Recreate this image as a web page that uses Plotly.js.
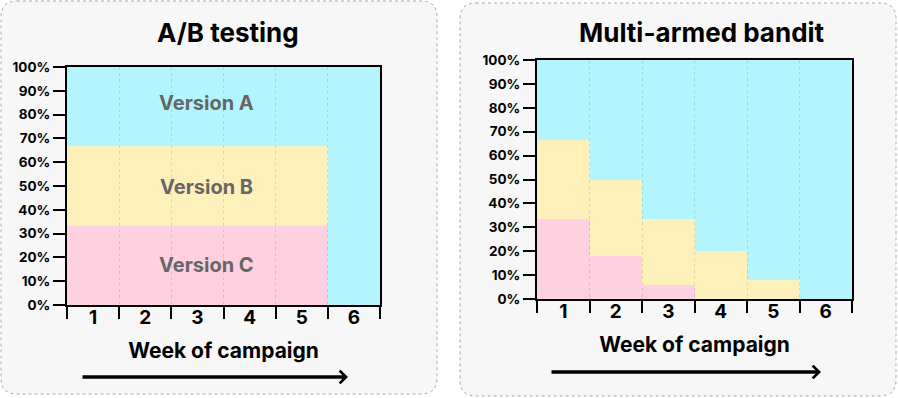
<!DOCTYPE html>
<html>
<head>
<meta charset="utf-8">
<script src="https://cdn.plot.ly/plotly-3.0.1.min.js"></script>
<style>
html,body{margin:0;padding:0;background:#fff;}
#chart{width:898px;height:398px;}
</style>
</head>
<body>
<div id="chart"></div>
<script>
// ---- data ----
const weeks = ['1', '2', '3', '4', '5', '6'];
const abVersionA = [33.3, 33.3, 33.3, 33.3, 33.3, 100];
const abVersionB = [33.3, 33.3, 33.3, 33.3, 33.3, 0];
const abVersionC = [33.4, 33.4, 33.4, 33.4, 33.4, 0];
const mabVersionA = [33.3, 50, 66.7, 80, 92, 100];
const mabVersionB = [33.3, 32, 27.3, 20, 8, 0];
const mabVersionC = [33.4, 18, 6, 0, 0, 0];
const yTickVals = [0, 10, 20, 30, 40, 50, 60, 70, 80, 90, 100];
const yTickText = ['0%', '10%', '20%', '30%', '40%', '50%', '60%', '70%', '80%', '90%', '100%'];
const panelTitles = ['A/B testing', 'Multi-armed bandit'];
const xTitle = 'Week of campaign';
const versionLabels = ['Version A', 'Version B', 'Version C'];

// ---- style ----
const W = 898, H = 398;
const FONT = 'Inter, Lato, sans-serif';
const OP = 0.8;
const colA = '#a3f3fd', colB = '#ffeeaa', colC = '#ffc6da';

function bar(x, y, color, xa, ya) {
  return {type: 'bar', x: x, y: y, xaxis: xa, yaxis: ya,
    marker: {color: color, opacity: OP, line: {width: 0}},
    hoverinfo: 'skip'};
}

const data = [
  bar(weeks, abVersionC, colC, 'x', 'y'),
  bar(weeks, abVersionB, colB, 'x', 'y'),
  bar(weeks, abVersionA, colA, 'x', 'y'),
  bar(weeks, mabVersionC, colC, 'x2', 'y2'),
  bar(weeks, mabVersionB, colB, 'x2', 'y2'),
  bar(weeks, mabVersionA, colA, 'x2', 'y2')
];

function px(x) { return x / W; }
function py(y) { return 1 - y / H; }

function xAxis(d0, d1, anchor) {
  return {
    domain: [px(d0), px(d1)], anchor: anchor, type: 'category',
    tickson: 'boundaries', ticks: 'outside', ticklen: 12, tickwidth: 2, tickcolor: '#000',
    showline: true, mirror: true, linecolor: '#000', linewidth: 2,
    showgrid: true, gridcolor: '#777', griddash: 'dot', gridwidth: 1,
    zeroline: false, fixedrange: true,
    tickfont: {family: FONT, size: 19, weight: 700, color: '#000'},
    ticklabelstandoff: -6,
    title: {text: xTitle, font: {family: FONT, size: 21, weight: 700, color: '#000'}, standoff: 16}
  };
}
function yAxis(top, bottom, anchor) {
  return {
    domain: [py(bottom), py(top)], anchor: anchor, range: [0, 100],
    tickvals: yTickVals, ticktext: yTickText,
    ticks: 'outside', ticklen: 12, tickwidth: 2, tickcolor: '#000',
    showline: true, mirror: true, linecolor: '#000', linewidth: 2,
    showgrid: false, zeroline: false, fixedrange: true,
    tickfont: {family: FONT, size: 13.5, weight: 700, color: '#000'}
  };
}

function roundRect(x0, y0, x1, y1, r) {
  const rx = r / W, ry = r / H;
  const X0 = px(x0), X1 = px(x1), Y0 = py(y0), Y1 = py(y1);
  return `M${X0 + rx},${Y0} L${X1 - rx},${Y0} Q${X1},${Y0} ${X1},${Y0 - ry} ` +
         `L${X1},${Y1 + ry} Q${X1},${Y1} ${X1 - rx},${Y1} L${X0 + rx},${Y1} ` +
         `Q${X0},${Y1} ${X0},${Y1 + ry} L${X0},${Y0 - ry} Q${X0},${Y0} ${X0 + rx},${Y0} Z`;
}
function panel(x0, y0, x1, y1) {
  return {type: 'path', xref: 'paper', yref: 'paper', path: roundRect(x0, y0, x1, y1, 16),
    fillcolor: '#f7f7f7', line: {color: '#aaaaaa', width: 1, dash: 'dot'}, layer: 'below'};
}

const verFont = {family: FONT, size: 20, weight: 700, color: '#666666'};
const titleFont = {family: FONT, size: 26, weight: 700, color: '#000'};
const annotations = [
  {text: panelTitles[0], xref: 'paper', yref: 'paper', x: px(228), y: py(33),
   xanchor: 'center', yanchor: 'middle', showarrow: false, font: titleFont},
  {text: panelTitles[1], xref: 'paper', yref: 'paper', x: px(702), y: py(32),
   xanchor: 'center', yanchor: 'middle', showarrow: false, font: titleFont},
  {text: versionLabels[0], xref: 'x domain', yref: 'y', x: 0.447, y: 85,
   xanchor: 'center', yanchor: 'middle', showarrow: false, font: verFont},
  {text: versionLabels[1], xref: 'x domain', yref: 'y', x: 0.447, y: 49.6,
   xanchor: 'center', yanchor: 'middle', showarrow: false, font: verFont},
  {text: versionLabels[2], xref: 'x domain', yref: 'y', x: 0.447, y: 16.8,
   xanchor: 'center', yanchor: 'middle', showarrow: false, font: verFont},
  {text: '', xref: 'paper', yref: 'paper', x: px(348), y: py(377), ax: -(348 - 81), ay: 0,
   showarrow: true, arrowhead: 4, arrowsize: 0.7, arrowwidth: 3.5, arrowcolor: '#000', standoff: 0},
  {text: '', xref: 'paper', yref: 'paper', x: px(821), y: py(372), ax: -(821 - 550), ay: 0,
   showarrow: true, arrowhead: 4, arrowsize: 0.7, arrowwidth: 3.5, arrowcolor: '#000', standoff: 0}
];

const layout = {
  width: W, height: H,
  margin: {l: 0, r: 0, t: 0, b: 0},
  paper_bgcolor: '#ffffff', plot_bgcolor: '#f7f7f7',
  barmode: 'stack', bargap: 0, showlegend: false,
  font: {family: FONT},
  xaxis: xAxis(67, 380, 'y'),
  yaxis: yAxis(67, 305, 'x'),
  xaxis2: xAxis(537, 852, 'y2'),
  yaxis2: yAxis(60, 299, 'x2'),
  shapes: [panel(1, 1, 437, 394), panel(460, 3, 896, 396)],
  annotations: annotations
};

Plotly.newPlot('chart', data, layout, {displayModeBar: false, staticPlot: true});
</script>
</body>
</html>
